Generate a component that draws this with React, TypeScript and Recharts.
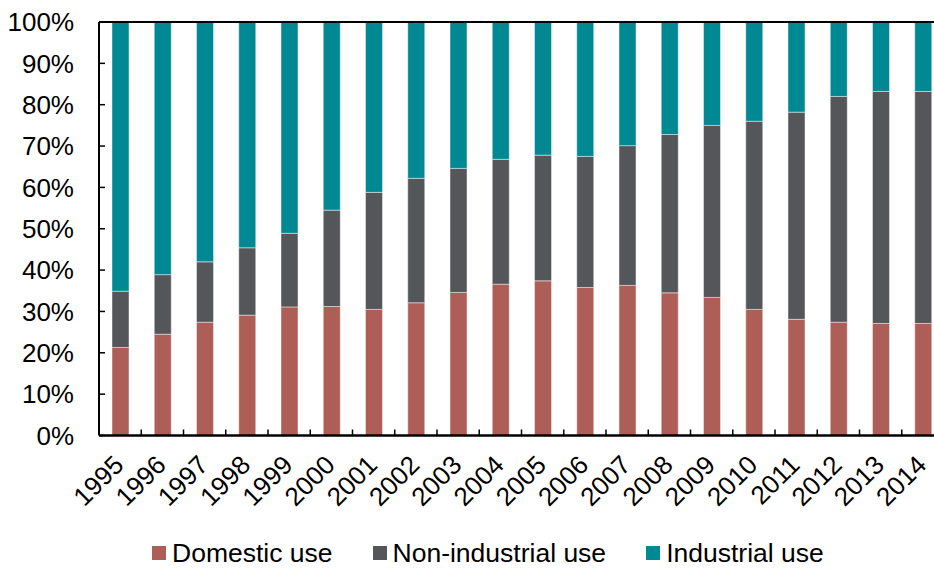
import React from 'react';
import { BarChart, Bar, XAxis, YAxis, Legend, ReferenceLine } from 'recharts';

const years = [
  '1995', '1996', '1997', '1998', '1999', '2000', '2001', '2002', '2003', '2004',
  '2005', '2006', '2007', '2008', '2009', '2010', '2011', '2012', '2013', '2014',
];

// shares of total use, percent
const domestic = [
  21.3, 24.5, 27.4, 29.1, 31.1, 31.2, 30.5, 32.1, 34.6, 36.6,
  37.4, 35.8, 36.3, 34.5, 33.4, 30.5, 28.1, 27.4, 27.1, 27.1,
];
const nonIndustrial = [
  13.6, 14.4, 14.6, 16.3, 17.8, 23.3, 28.3, 30.1, 30.0, 30.2,
  30.4, 31.7, 33.8, 38.3, 41.6, 45.5, 50.1, 54.6, 56.1, 56.1,
];
const industrial = [
  65.1, 61.1, 58.0, 54.6, 51.1, 45.5, 41.2, 37.8, 35.4, 33.2,
  32.2, 32.5, 29.9, 27.2, 25.0, 24.0, 21.8, 18.0, 16.8, 16.8,
];

const yTicks = [0, 10, 20, 30, 40, 50, 60, 70, 80, 90, 100];

const series = [
  { key: 'domestic', name: 'Domestic use', color: '#AD5F57' },
  { key: 'nonIndustrial', name: 'Non-industrial use', color: '#55565A' },
  { key: 'industrial', name: 'Industrial use', color: '#008893' },
];

const data = years.map((year, i) => ({
  year,
  domestic: domestic[i],
  nonIndustrial: nonIndustrial[i],
  industrial: industrial[i],
}));

const FONT = '"Liberation Sans", Arial, sans-serif';

// year label rotated 45°, plus a small inward tick on the right edge of each category
function YearTick({ x, y, payload, index }: any) {
  const half = payload && payload.offset ? payload.offset : 21;
  const tx = x + 5;
  const ty = y + 31;
  return (
    <g>
      {index < years.length - 1 && (
        <line x1={x + half} x2={x + half} y1={y} y2={y - 6} stroke="#000" strokeWidth={1.5} />
      )}
      <text
        x={tx}
        y={ty}
        transform={`rotate(-45, ${tx}, ${ty})`}
        textAnchor="end"
        fontSize={26}
        fontFamily={FONT}
        fill="#000"
      >
        {payload.value}
      </text>
    </g>
  );
}

function LegendRow() {
  return (
    <div
      style={{
        display: 'flex',
        alignItems: 'center',
        height: 40,
        paddingTop: 10,
        paddingLeft: 152,
        boxSizing: 'border-box',
        gap: 40,
        fontFamily: FONT,
        fontSize: 26.5,
        color: '#000',
      }}
    >
      {series.map((s) => (
        <div key={s.key} style={{ display: 'flex', alignItems: 'center', gap: 6 }}>
          <span style={{ width: 14, height: 14, background: s.color, display: 'inline-block' }} />
          <span>{s.name}</span>
        </div>
      ))}
    </div>
  );
}

export default function App() {
  return (
    <div style={{ position: 'absolute', left: 0, top: 0, width: 934, height: 568, overflow: 'hidden', background: '#fff' }}>
      <BarChart
        width={946}
        height={568}
        data={data}
        margin={{ top: 22, right: 2, bottom: 0, left: 0 }}
        barSize={17}
      >
        <XAxis
          dataKey="year"
          interval={0}
          tickLine={false}
          tickSize={0}
          tickMargin={0}
          axisLine={{ stroke: '#000', strokeWidth: 2.5 }}
          tick={<YearTick />}
          height={92.5}
        />
        <YAxis
          domain={[0, 100]}
          ticks={yTicks}
          width={99}
          tickSize={-6}
          tickMargin={31}
          tickFormatter={(v) => `${v}%`}
          axisLine={{ stroke: '#000', strokeWidth: 2 }}
          tickLine={{ stroke: '#000', strokeWidth: 1.5 }}
          tick={{ fontSize: 26, fontFamily: FONT, fill: '#000' }}
        />
        <ReferenceLine y={100} stroke="#000" strokeWidth={2} />
        {series.map((s) => (
          <Bar
            key={s.key}
            dataKey={s.key}
            name={s.name}
            stackId="share"
            fill={s.color}
            stroke="rgba(255,255,255,0.45)"
            strokeWidth={1}
            isAnimationActive={false}
          />
        ))}
        <Legend verticalAlign="bottom" content={() => <LegendRow />} wrapperStyle={{ left: 0, width: 934 }} />
      </BarChart>
    </div>
  );
}
